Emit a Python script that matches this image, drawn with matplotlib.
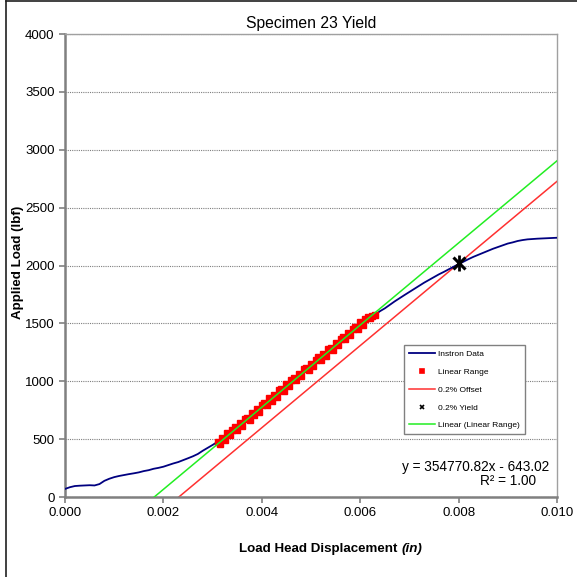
import numpy as np
import matplotlib
matplotlib.use("Agg")
import matplotlib.pyplot as plt
from matplotlib.lines import Line2D

plt.rcParams['font.family'] = ['Liberation Sans', 'DejaVu Sans']

# Instron data (in, lbf) - toe region before the linear range
pre_disp = np.linspace(0.0, 0.0030, 31)
pre_load = [70, 85, 95, 98, 100, 102, 100, 112, 140, 158,
            172, 182, 190, 198, 205, 213, 224, 232, 244, 252,
            262, 276, 290, 302, 318, 335, 352, 372, 400, 425, 450]

# linear range samples
lin_disp = np.linspace(0.0031, 0.0063, 65)
lin_load = [477, 460, 514, 492, 553, 533, 581, 605, 583, 636,
            614, 674, 685, 669, 729, 709, 761, 738, 794, 816,
            797, 853, 829, 885, 866, 922, 934, 918, 977, 957,
            1009, 1029, 1008, 1062, 1042, 1102, 1111, 1095, 1153, 1134,
            1186, 1206, 1186, 1240, 1219, 1279, 1288, 1272, 1330, 1312,
            1364, 1383, 1363, 1417, 1397, 1456, 1465, 1450, 1508, 1489,
            1541, 1557, 1544, 1568, 1572]

# past the linear range up to 0.010 in
post_disp = np.linspace(0.0064, 0.0100, 37)
post_load = [1605, 1630, 1660, 1690, 1718, 1745, 1772, 1800, 1826, 1852,
             1876, 1900, 1924, 1945, 1968, 1990, 2012, 2035, 2055, 2075,
             2092, 2110, 2128, 2145, 2160, 2175, 2190, 2200, 2212, 2220,
             2226, 2229, 2232, 2234, 2236, 2238, 2240]

disp = np.concatenate([pre_disp, lin_disp, post_disp])
load = np.concatenate([pre_load, lin_load, post_load])

# trendline of the linear range and the 0.2% offset line
slope = 354770.82
intercept = -643.02
offset = 0.0005
yield_disp = 0.0080
yield_load = 2018

fig = plt.figure(figsize=(5.77, 5.77), dpi=100)
ax = fig.add_axes([0.1127, 0.1386, 0.8526, 0.8024])

ax.plot(disp, load, color='#000080', lw=1.3, label='Instron Data', zorder=3)
ax.plot(lin_disp, lin_load, 's', color='red', ms=5, mec='red', ls='none',
        label='Linear Range', zorder=4)

x_off = np.array([(0 - intercept) / slope + offset, 0.010])
ax.plot(x_off, slope * (x_off - offset) + intercept, color='#ff3030', lw=1.1,
        label='0.2% Offset', zorder=2)

ax.plot([yield_disp], [yield_load], 'x', color='black', ms=9, mew=2.2,
        label='0.2% Yield', zorder=6)
ax.plot([yield_disp], [yield_load], '|', color='black', ms=11, mew=2.0, zorder=6)

x_lin = np.array([-intercept / slope, 0.010])
ax.plot(x_lin, slope * x_lin + intercept, color='#22ee22', lw=1.1,
        label='Linear (Linear Range)', zorder=5)

ax.set_xlim(0, 0.010)
ax.set_ylim(0, 4000)
ax.set_xticks(np.arange(0, 0.0101, 0.002))
ax.set_xticklabels(['0.000', '0.002', '0.004', '0.006', '0.008', '0.010'])
ax.set_yticks(np.arange(0, 4001, 500))
ax.tick_params(labelsize=9.5, direction='out', length=4, color='#808080', width=1.2)
ax.yaxis.grid(True, color='#7f7f7f', ls=(0, (1, 1)), lw=0.8)
ax.set_axisbelow(True)

for s in ['top', 'right']:
    ax.spines[s].set_color('#a0a0a0')
    ax.spines[s].set_linewidth(1.0)
for s in ['left', 'bottom']:
    ax.spines[s].set_color('#808080')
    ax.spines[s].set_linewidth(1.8)

ax.set_title('Specimen 23 Yield', fontsize=11.3, pad=4)

# axis titles
fig.text(18 / 577, 1 - 262 / 577, 'Applied Load (lbf)', rotation=90,
         fontsize=9.6, fontweight='bold', ha='center', va='center')
t1 = fig.text(239 / 577, 1 - 552 / 577, 'Load Head Displacement ',
              fontsize=9.6, fontweight='bold', ha='left', va='baseline')
ax.annotate('(in)', xy=(1, 0), xycoords=t1, fontsize=9.6, fontweight='bold',
            fontstyle='italic', ha='left', va='bottom')

ax.text(0.00985, 260, 'y = 354770.82x - 643.02', fontsize=9.8, ha='right', va='center')
ax.text(0.0090, 140, 'R² = 1.00', fontsize=9.8, ha='center', va='center')

leg = ax.legend(loc='upper left', bbox_to_anchor=(0.68, 0.337), fontsize=6,
                frameon=True, fancybox=False, framealpha=1, edgecolor='#808080',
                handlelength=3.2, borderpad=0.6, labelspacing=1.2, handletextpad=0.3)
leg.get_frame().set_linewidth(1.0)
for h in leg.legend_handles:
    h.set_markersize(3)
    if hasattr(h, 'set_markeredgewidth'):
        h.set_markeredgewidth(1.2)

# chart area frame
fig.add_artist(Line2D([6 / 577, 6 / 577], [0, 1 - 1 / 577], color='#202020', lw=1.2))
fig.add_artist(Line2D([6 / 577, 1], [1 - 1 / 577, 1 - 1 / 577], color='#202020', lw=1.2))

fig.savefig('out.png', dpi=100)
